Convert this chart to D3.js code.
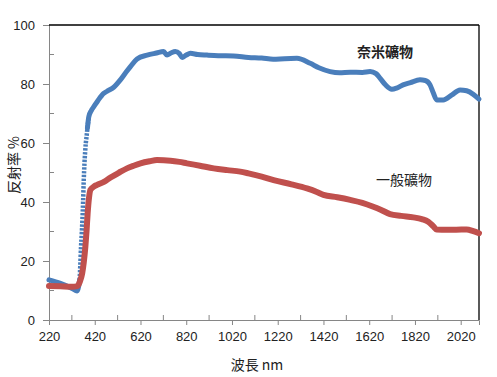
<!DOCTYPE html>
<html>
<head>
<meta charset="utf-8">
<script src="https://cdn.jsdelivr.net/npm/d3@7"></script>
<style>
  body { margin: 0; background: #fff; }
  text { font-family: "Liberation Sans", "Noto Sans CJK TC", sans-serif; fill: #222; }
  .cjk { font-family: "Noto Sans CJK TC", sans-serif; }
</style>
</head>
<body>
<div id="chart"></div>
<script>
// Dimensions
const width = 497, height = 377;
const margin = { top: 25, right: 18, bottom: 57, left: 49 };

// Données : longueur d'onde (nm) et réflectance (%)
const nanoWl = [220, 270, 321, 343, 350, 354, 357, 360, 363, 366, 369, 372, 375, 378, 381, 384, 388, 394, 405, 416, 435, 459, 480, 503, 532, 555, 576, 605, 649, 690, 721, 736, 755, 772, 790, 802, 820, 838, 870, 911, 960, 1027, 1092, 1150, 1200, 1250, 1304, 1362, 1400, 1449, 1490, 1537, 1590, 1624, 1650, 1668, 1690, 1719, 1740, 1768, 1800, 1842, 1865, 1886, 1900, 1915, 1944, 1980, 2017, 2046, 2075, 2100];
const nanoVal = [13.6, 12.4, 10.7, 9.8, 11.5, 13.6, 19, 24.8, 29, 33.9, 40, 47.5, 53, 57, 60, 62, 65, 68.9, 71, 72.3, 74.5, 76.8, 77.8, 78.9, 81.4, 83.8, 85.9, 88.5, 89.8, 90.5, 91.0, 89.8, 90.6, 91.0, 90.3, 89.0, 89.8, 90.4, 90.0, 89.8, 89.6, 89.5, 89.0, 88.8, 88.4, 88.6, 88.7, 87.0, 85.5, 84.2, 83.8, 84.0, 83.9, 84.2, 83.5, 81.9, 79.8, 78.2, 78.6, 79.7, 80.5, 81.4, 81.2, 79.7, 77, 74.6, 74.6, 76.2, 78.0, 77.7, 76.5, 74.9];

const normalWl = [220, 270, 321, 343, 355, 365, 372, 379, 384, 389, 395, 401, 416, 430, 460, 489, 525, 561, 590, 620, 660, 692, 751, 790, 823, 880, 940, 1000, 1056, 1092, 1150, 1202, 1280, 1348, 1391, 1420, 1480, 1537, 1590, 1638, 1670, 1711, 1760, 1813, 1850, 1878, 1900, 1915, 1960, 2000, 2046, 2075, 2100];
const normalVal = [11.5, 11.4, 11.3, 11.5, 13, 15.8, 19.5, 24.8, 30, 36.2, 41.5, 44.1, 45.2, 45.8, 46.8, 48.3, 49.9, 51.4, 52.3, 53.1, 53.8, 54.2, 54.0, 53.6, 53.1, 52.3, 51.4, 50.8, 50.3, 49.7, 48.6, 47.4, 46.0, 44.6, 43.4, 42.4, 41.6, 40.7, 39.7, 38.4, 37.4, 35.9, 35.3, 34.8, 34.2, 33.3, 31.8, 30.7, 30.6, 30.6, 30.7, 30.1, 29.4];

const xMajor = [220, 420, 620, 820, 1020, 1220, 1420, 1620, 1820, 2020];
const xMinor = [320, 520, 720, 920, 1120, 1320, 1520, 1720, 1920];
const yMajor = [0, 20, 40, 60, 80, 100];
const yMinor = [10, 30, 50, 70, 90];

const svg = d3.select("#chart")
    .append("svg")
    .attr("width", width)
    .attr("height", height);

const x = d3.scaleLinear().domain([220, 2100]).range([margin.left, width - margin.right]);
const y = d3.scaleLinear().domain([0, 100]).range([height - margin.bottom, margin.top]);

const axisColor = "#868686";

// Axe Y
const yAxis = svg.append("g").attr("transform", `translate(${margin.left},0)`);
yAxis.call(d3.axisLeft(y).tickValues(yMajor).tickSize(6).tickPadding(8));
yAxis.select(".domain").attr("stroke", axisColor);
yAxis.selectAll(".tick line").attr("stroke", axisColor);
yAxis.selectAll(".tick text").attr("font-size", 13).attr("fill", "#222");
yAxis.selectAll(".minor").data(yMinor).enter().append("line")
    .attr("class", "minor")
    .attr("x1", 0).attr("x2", 5)
    .attr("y1", d => y(d)).attr("y2", d => y(d))
    .attr("stroke", axisColor);

// Axe X
const xAxis = svg.append("g").attr("transform", `translate(0,${height - margin.bottom})`);
xAxis.call(d3.axisBottom(x).tickValues(xMajor).tickFormat(d3.format("d")).tickSize(5).tickPadding(7));
xAxis.select(".domain").attr("stroke", axisColor);
xAxis.selectAll(".tick line").attr("stroke", axisColor);
xAxis.selectAll(".tick text").attr("font-size", 13).attr("fill", "#222");
xAxis.selectAll(".minor").data(xMinor).enter().append("line")
    .attr("class", "minor")
    .attr("x1", d => x(d)).attr("x2", d => x(d))
    .attr("y1", 0).attr("y2", -5)
    .attr("stroke", axisColor);

// Bordures haut et droite
svg.append("line")
    .attr("x1", margin.left).attr("x2", width - margin.right)
    .attr("y1", y(100)).attr("y2", y(100))
    .attr("stroke", "#000").attr("stroke-width", 1.3);
svg.append("line")
    .attr("x1", width - margin.right).attr("x2", width - margin.right)
    .attr("y1", y(100)).attr("y2", y(0))
    .attr("stroke", "#000").attr("stroke-width", 1.3);

// Courbes
const line = d3.line()
    .x(d => x(d[0]))
    .y(d => y(d[1]))
    .curve(d3.curveMonotoneX);

const nano = nanoWl.map((w, i) => [w, nanoVal[i]]);
// la montée rapide apparaît en pointillés (marqueurs espacés)
const nanoLow = nano.filter(d => d[0] <= 354);
const nanoSteep = nano.filter(d => d[0] >= 354 && d[0] <= 394);
const nanoHigh = nano.filter(d => d[0] >= 388);

[nanoLow, nanoHigh].forEach(seg => {
    svg.append("path")
        .datum(seg)
        .attr("d", line)
        .attr("fill", "none")
        .attr("stroke", "#4a7ebb")
        .attr("stroke-width", 5)
        .attr("stroke-linejoin", "round")
        .attr("stroke-linecap", "round");
});
svg.append("path")
    .datum(nanoSteep)
    .attr("d", line)
    .attr("fill", "none")
    .attr("stroke", "#4a7ebb")
    .attr("stroke-width", 4.5)
    .attr("stroke-dasharray", "2.4,1.4");

svg.append("path")
    .datum(normalWl.map((w, i) => [w, normalVal[i]]))
    .attr("d", line)
    .attr("fill", "none")
    .attr("stroke", "#c0504d")
    .attr("stroke-width", 6)
    .attr("stroke-linejoin", "round")
    .attr("stroke-linecap", "round");

// Titres des axes
svg.append("text")
    .attr("class", "cjk")
    .attr("transform", "translate(19,165) rotate(-90)")
    .attr("text-anchor", "middle")
    .attr("font-size", 14)
    .text("反射率 %");

svg.append("text")
    .attr("class", "cjk")
    .attr("x", 257).attr("y", 370)
    .attr("text-anchor", "middle")
    .attr("font-size", 14)
    .text("波長 nm");

// Étiquettes des séries
svg.append("text")
    .attr("class", "cjk")
    .attr("x", 385).attr("y", 57)
    .attr("text-anchor", "middle")
    .attr("font-size", 14)
    .attr("font-weight", "bold")
    .text("奈米礦物");

svg.append("text")
    .attr("class", "cjk")
    .attr("x", 404).attr("y", 185)
    .attr("text-anchor", "middle")
    .attr("font-size", 14)
    .text("一般礦物");
</script>
</body>
</html>
